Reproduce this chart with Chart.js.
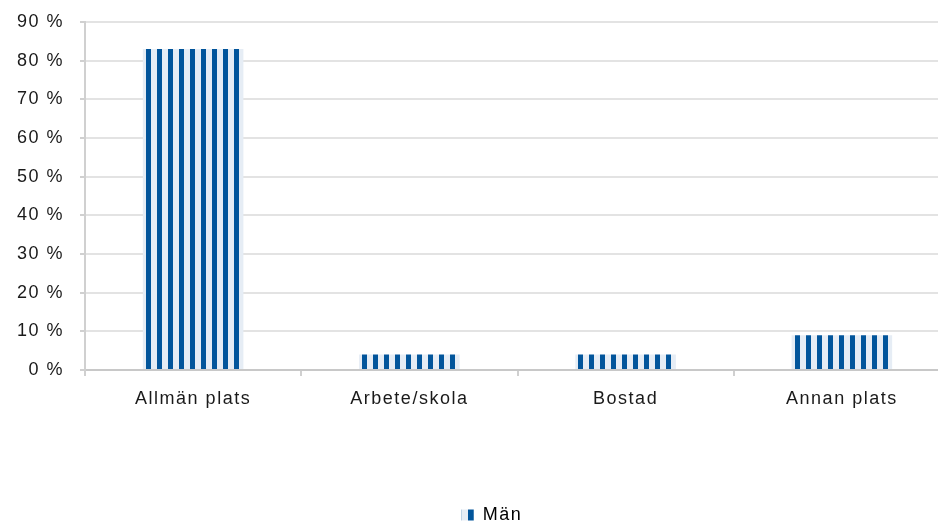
<!DOCTYPE html>
<html>
<head>
<meta charset="utf-8">
<script src="https://cdn.jsdelivr.net/npm/chart.js@4.4.0/dist/chart.umd.min.js"></script>
<style>
  html, body { margin: 0; padding: 0; background: #fff; overflow: hidden; }
  #wrap { position: relative; width: 950px; height: 534px; }
</style>
</head>
<body>
<div id="wrap"><canvas id="barChart"></canvas></div>
<script>
const categories = ['Allmän plats', 'Arbete/skola', 'Bostad', 'Annan plats'];
const manValues = [83, 4, 4, 9];
const seriesName = 'Män';
const yTicks = [0, 10, 20, 30, 40, 50, 60, 70, 80, 90];

const DARK = '#02559b';
const LIGHT = '#e6edf5';
const BAR_PCT = 0.465;

// stripe tile: 11px period, 5px dark stripe
const tile = document.createElement('canvas');
tile.width = 11; tile.height = 4;
const tctx = tile.getContext('2d');
tctx.fillStyle = LIGHT; tctx.fillRect(0, 0, 11, 4);
tctx.fillStyle = DARK; tctx.fillRect(3, 0, 5, 4);

const legTile = document.createElement('canvas');
legTile.width = 12; legTile.height = 4;
const lctx = legTile.getContext('2d');
lctx.fillStyle = LIGHT; lctx.fillRect(0, 0, 12, 4);
lctx.fillStyle = DARK; lctx.fillRect(6, 0, 6, 4);

let legendPattern = null;

const font = { family: '"Liberation Sans", Arial, sans-serif', size: 18 };

const spacing = {
  id: 'spacing',
  beforeLayout(chart) { chart.ctx.letterSpacing = '1.5px'; },
  afterLayout(chart) {
    // nudge the legend so it sits where the reference has it
    if (chart.legend) { chart.legend.left += 17; chart.legend.right += 17; }
  },
  beforeDraw(chart) {
    chart.ctx.letterSpacing = '1.5px';
    const hb = chart.legend && chart.legend.legendHitBoxes;
    if (legendPattern && hb && hb.length) {
      legendPattern.setTransform(new DOMMatrix([1, 0, 0, 1, Math.round(hb[0].left), 0]));
    }
  }
};

const ctx = document.getElementById('barChart').getContext('2d');
new Chart(ctx, {
  type: 'bar',
  data: {
    labels: categories,
    datasets: [{
      label: seriesName,
      data: manValues,
      backgroundColor: (c) => {
        const chart = c.chart;
        const xs = chart.scales.x;
        if (c.dataIndex === undefined || !xs) return DARK;
        const w = xs.width / categories.length * BAR_PCT;
        const left = xs.getPixelForValue(c.dataIndex) - w / 2;
        const p = chart.ctx.createPattern(tile, 'repeat');
        p.setTransform(new DOMMatrix([1, 0, 0, 1, Math.round(left), 0]));
        return p;
      },
      borderWidth: 0,
      barPercentage: BAR_PCT,
      categoryPercentage: 1
    }]
  },
  options: {
    responsive: true,
    maintainAspectRatio: false,
    animation: false,
    layout: { padding: { top: 22, left: 0, right: 0, bottom: 0 } },
    plugins: {
      tooltip: { enabled: false },
      legend: {
        position: 'bottom',
        labels: {
          color: '#1a1a1a',
          font: font,
          boxWidth: 12,
          boxHeight: 11,
          padding: 6,
          generateLabels: (chart) => {
            legendPattern = chart.ctx.createPattern(legTile, 'repeat');
            return [{
              text: seriesName,
              fillStyle: legendPattern,
              strokeStyle: 'rgba(0,0,0,0)',
              lineWidth: 0,
              hidden: false,
              datasetIndex: 0
            }];
          }
        }
      }
    },
    scales: {
      x: {
        grid: {
          offset: true,
          drawOnChartArea: false,
          drawTicks: true,
          tickLength: 6,
          color: '#d0d0d0',
          lineWidth: 2
        },
        border: { color: '#c8c8c8', width: 2 },
        ticks: { color: '#1a1a1a', font: font, padding: 12, maxRotation: 0 },
        afterFit: (s) => { s.height = 130; }
      },
      y: {
        min: 0,
        max: 90,
        afterBuildTicks: (s) => { s.ticks = yTicks.map(v => ({ value: v })); },
        grid: { color: '#e3e3e3', lineWidth: 2, tickLength: 5, tickColor: '#d0d0d0' },
        border: { color: '#d0d0d0', width: 2 },
        ticks: {
          color: '#1a1a1a',
          font: font,
          padding: 16,
          callback: (v) => v + ' %'
        },
        afterFit: (s) => { s.width = 85; s.paddingTop = 0; s.paddingBottom = 0; }
      }
    }
  },
  plugins: [spacing]
});
</script>
</body>
</html>
